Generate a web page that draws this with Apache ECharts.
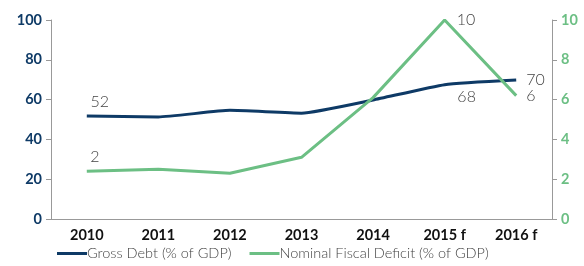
<!DOCTYPE html>
<html>
<head>
<meta charset="utf-8">
<script src="https://cdn.jsdelivr.net/npm/echarts@6/dist/echarts.min.js"></script>
<style>
  html, body { margin: 0; padding: 0; background: #fff; }
  #main { width: 584px; height: 266px; }
</style>
</head>
<body>
<div id="main"></div>
<script>
// data
var years = ["2010", "2011", "2012", "2013", "2014", "2015 f", "2016 f"];
var grossDebt = [51.8, 51.3, 54.6, 53.2, 59.8, 67.5, 69.8];
var fiscalDeficit = [2.4, 2.5, 2.3, 3.1, 6.1, 10, 6.2];
var debtLabels = ["52", "", "", "", "", "68", "70"];
var deficitLabels = ["2", "", "", "", "", "10", "6"];

var navy = "#0e3a66", green = "#6cbf84";
var chart = echarts.init(document.getElementById("main"));

function labelled(values, labels, pos, off) {
  return values.map(function (v, i) {
    var item = { value: v };
    if (labels[i]) item.label = { show: true, formatter: labels[i], position: pos[i], offset: off[i] };
    return item;
  });
}

var lblStyle = { show: false, color: "#444", fontSize: 16, fontFamily: "Lato", fontWeight: 300, distance: 6 };

chart.setOption({
  animation: false,
  grid: { left: 51, right: 32, top: 20, bottom: 47 },
  legend: {
    bottom: 0, left: 52, itemWidth: 30, itemHeight: 3, itemGap: 18,
    icon: "rect",
    textStyle: { color: "#444", fontSize: 14.5, fontFamily: "Lato", fontWeight: 300, padding: [0, 0, 0, -5] },
    data: ["Gross Debt (% of GDP)", "Nominal Fiscal Deficit (% of GDP)"]
  },
  xAxis: {
    type: "category", data: years, boundaryGap: true,
    axisLine: { lineStyle: { color: "#999" } },
    axisTick: { lineStyle: { color: "#999" }, length: 5 },
    axisLabel: { color: "#111", fontSize: 14.5, fontWeight: "bold", fontFamily: "Lato", margin: 9 }
  },
  yAxis: [{
    type: "value", min: 0, max: 100, interval: 20,
    splitLine: { show: false },
    axisLine: { show: true, lineStyle: { color: "#999" } },
    axisTick: { show: true, lineStyle: { color: "#999" }, length: 5 },
    axisLabel: { color: navy, fontSize: 14.5, fontWeight: "bold", fontFamily: "Lato", margin: 9 }
  }, {
    type: "value", min: 0, max: 10, interval: 2,
    splitLine: { show: false },
    axisLine: { show: true, lineStyle: { color: "#999" } },
    axisTick: { show: true, lineStyle: { color: "#999" }, length: 5 },
    axisLabel: { color: green, fontSize: 14.5, fontWeight: "bold", fontFamily: "Lato", margin: 9 }
  }],
  series: [{
    name: "Gross Debt (% of GDP)", type: "line", yAxisIndex: 0,
    smooth: 0.15, symbol: "circle", symbolSize: 0, showSymbol: true, color: navy,
    lineStyle: { width: 3, color: navy },
    label: lblStyle,
    data: labelled(grossDebt, debtLabels,
      ["top", "", "", "", "", "bottom", "right"],
      [[13, 0], 0, 0, 0, 0, [22, -2], [4, 0]])
  }, {
    name: "Nominal Fiscal Deficit (% of GDP)", type: "line", yAxisIndex: 1,
    smooth: false, symbol: "circle", symbolSize: 0, showSymbol: true, color: green,
    lineStyle: { width: 3, color: green },
    label: lblStyle,
    data: labelled(fiscalDeficit, deficitLabels,
      ["top", "", "", "", "", "right", "right"],
      [[8, 0], 0, 0, 0, 0, [6, 0], [4, 0]])
  }]
});
</script>
</body>
</html>
